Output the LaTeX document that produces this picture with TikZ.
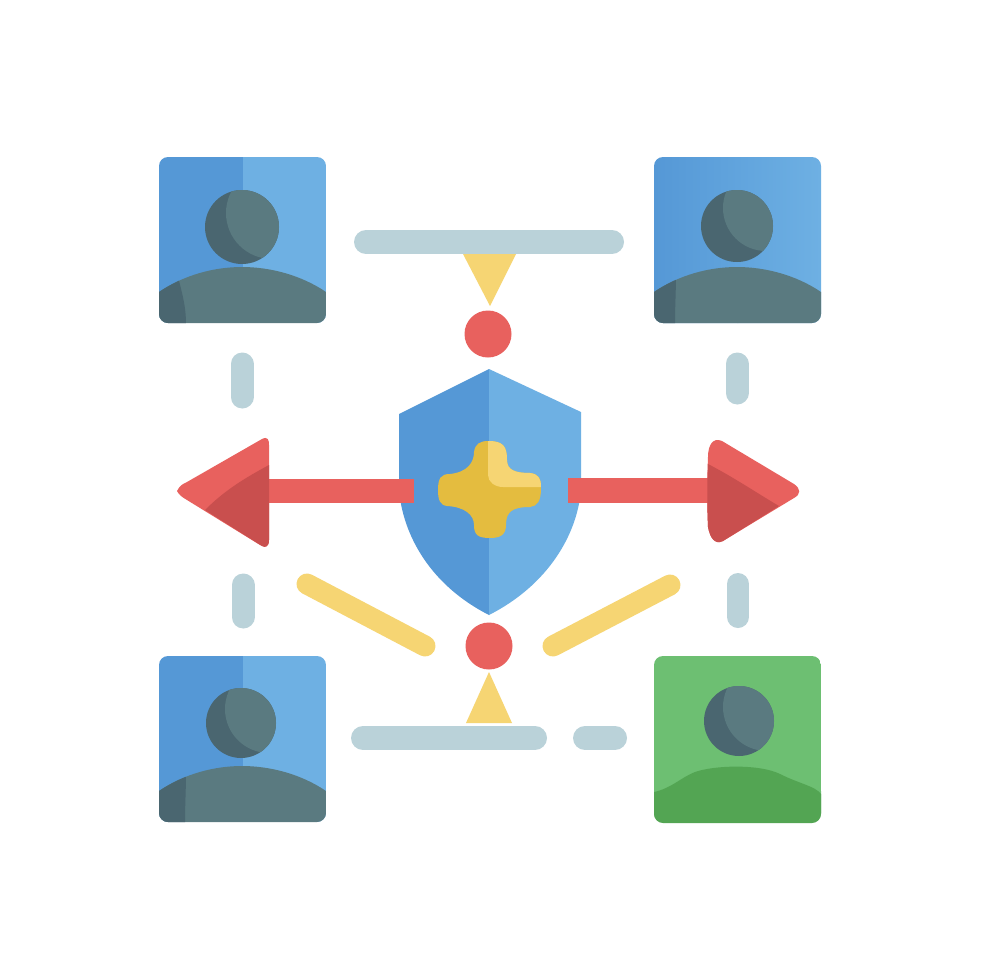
\documentclass[tikz,border=0pt]{standalone}
\usepackage{tikz}
\definecolor{bluedark}{HTML}{5598D6}
\definecolor{bluemid}{HTML}{61A4DD}
\definecolor{bluelight}{HTML}{6EB0E3}
\definecolor{slatelit}{HTML}{5A7A80}
\definecolor{slatedark}{HTML}{4A6670}
\definecolor{greenlit}{HTML}{6DBF72}
\definecolor{greendark}{HTML}{53A553}
\definecolor{paleline}{HTML}{BAD2D9}
\definecolor{sand}{HTML}{F6D573}
\definecolor{gold}{HTML}{E4BC3F}
\definecolor{redlit}{HTML}{E8615E}
\definecolor{reddark}{HTML}{C94F4E}
\tikzset{
	dash bar/.style={line width=#1,line cap=round,paleline},
	dash bar/.default=24,
	ray bar/.style={line width=21,line cap=round,sand},
	dot node/.style={circle,fill=redlit,minimum size=47,inner sep=0},
	left half/.style={fill=bluedark},
	right half/.style={fill=bluelight},
	left fade/.style={left color=bluedark,right color=bluemid},
	right fade/.style={left color=bluemid,right color=bluelight},
}
% one tile: place, two halves, body shadow, body, shadow cut top and bottom
\newcommand{\usertile}[8]{
	\begin{scope}[shift={(#1,#2)}]
		\begin{scope}
			\clip[rounded corners=9] (0,0) rectangle (167,166);
			\path[#3] (0,0) rectangle (84,166);
			\path[#4] (83.5,0) rectangle (167,166);
			\fill[#6] (0,135) .. controls (25,118) and (55,110) .. (83,110)
				.. controls (111,110) and (142,118) .. (167,135) -- (167,166) -- (0,166) -- cycle;
			\begin{scope}
				\clip (0,135) .. controls (25,118) and (55,110) .. (83,110)
					.. controls (111,110) and (142,118) .. (167,135) -- (167,166) -- (0,166) -- cycle;
				\fill[#5] (-1,100) -- (#7,100) .. controls (#7+2,125) and (#8,140) .. (#8,167) -- (-1,167) -- cycle;
			\end{scope}
		\end{scope}
	\end{scope}
}
\newcommand{\userhead}[6]{
	\fill[slatedark] (#1,#2) circle (#3);
	\begin{scope}
		\clip (#1,#2) circle (#3);
		\fill[slatelit] (#1+#4,#2+#5) circle (#6);
	\end{scope}
}
\begin{document}
\begin{tikzpicture}[x=1pt,y=-1pt]
	\useasboundingbox (0,0) rectangle (980,980);
	\fill[white] (0,0) rectangle (980,980);

	% tiles
	\usertile{159}{157}{left half}{right half}{slatedark}{slatelit}{16}{27}
	\usertile{654}{157}{left fade}{right fade}{slatedark}{slatelit}{21}{21}
	\usertile{159}{656}{left half}{right half}{slatedark}{slatelit}{26}{26}
	\usertile{654}{656}{fill=greenlit}{fill=greenlit}{greenlit}{greenlit}{0}{0}
	\begin{scope}
		\clip[rounded corners=9] (654,656) rectangle (821,823);
		\fill[greendark] (654,792) .. controls (672,788) and (680,778) .. (695,772)
			.. controls (715,765) and (760,764) .. (780,774)
			.. controls (800,784) and (815,786) .. (821,794) -- (821,823) -- (654,823) -- cycle;
	\end{scope}
	\userhead{242}{227}{37}{30}{-14}{46}
	\userhead{737}{226}{36}{29}{-18}{43}
	\userhead{241}{723}{35}{28}{-14}{44}
	\userhead{739}{721}{35}{28}{-14}{44}

	% pale dashes
	\draw[dash bar] (366,242) -- (612,242);
	\draw[dash bar] (363,738) -- (535,738);
	\draw[dash bar] (585,738) -- (615,738);
	\draw[dash bar=23] (242,364) -- (242,397);
	\draw[dash bar=23] (737,364) -- (737,393);
	\draw[dash bar=23] (243,585) -- (243,617);
	\draw[dash bar=22] (738,584) -- (738,617);

	% yellow triangles and rays
	\fill[sand] (463,254) -- (516,254) -- (490,306) -- cycle;
	\fill[sand] (466,723) -- (512,723) -- (489,672) -- cycle;
	\draw[ray bar] (307,584) -- (425,646);
	\draw[ray bar] (670,585) -- (553,646);

	% dots
	\node[dot node] (topdot) at (488,334) {};
	\node[dot node] (lowdot) at (489,646) {};

	% shield
	\fill[bluedark] (489,369) -- (399,414) -- (399,490)
		.. controls (403,535) and (430,585) .. (489,615) -- cycle;
	\fill[bluelight] (489,369) -- (581,412) -- (581,490)
		.. controls (577,535) and (548,585) .. (489,615) -- cycle;

	% cross
	\fill[gold] (488,441) .. controls (503,441) and (507,446) .. (507,460)
		.. controls (507,470) and (515,473) .. (530,473)
		.. controls (539,474) and (541,478) .. (541,488)
		.. controls (541,502) and (537,506) .. (530,507)
		.. controls (512,507) and (506,512) .. (506,525)
		.. controls (506,535) and (500,538) .. (490,538)
		.. controls (478,538) and (474,535) .. (474,525)
		.. controls (474,515) and (465,507) .. (447,506)
		.. controls (440,505) and (438,500) .. (438,490)
		.. controls (438,478) and (441,474) .. (450,474)
		.. controls (468,472) and (474,462) .. (474,452)
		.. controls (475,444) and (480,441) .. (488,441) -- cycle;
	\fill[sand] (488,441) .. controls (503,441) and (507,446) .. (507,460)
		.. controls (507,470) and (515,473) .. (530,473)
		.. controls (538,474) and (541,478) .. (541,487)
		-- (503,487) .. controls (495,487) and (488,482) .. (488,475) -- cycle;

	% arrows
	\fill[redlit] (269,479) rectangle (414,503);
	\fill[redlit] (568,478) rectangle (712,503);
	\fill[redlit] (177,491) .. controls (180,485) and (183,484) .. (187,482)
		-- (262,439) .. controls (268,436) and (269,440) .. (269,445)
		-- (269,540) .. controls (269,547) and (265,548) .. (260,545)
		-- (187,500) .. controls (182,497) and (179,495) .. (177,491) -- cycle;
	\fill[reddark] (262,546) -- (205,510) .. controls (225,490) and (245,478) .. (269,465) -- (269,540)
		.. controls (269,547) and (265,548) .. (262,546) -- cycle;
	\fill[redlit] (708,457) .. controls (708,445) and (713,437) .. (722,441)
		-- (794,484) .. controls (801,489) and (801,494) .. (794,498)
		-- (723,541) .. controls (715,545) and (710,538) .. (708,527)
		.. controls (707,505) and (707,480) .. (708,457) -- cycle;
	\fill[reddark] (708,464) .. controls (735,478) and (760,495) .. (779,506)
		-- (723,541) .. controls (715,545) and (710,538) .. (708,527)
		.. controls (707,505) and (707,485) .. (708,464) -- cycle;
\end{tikzpicture}
\end{document}
